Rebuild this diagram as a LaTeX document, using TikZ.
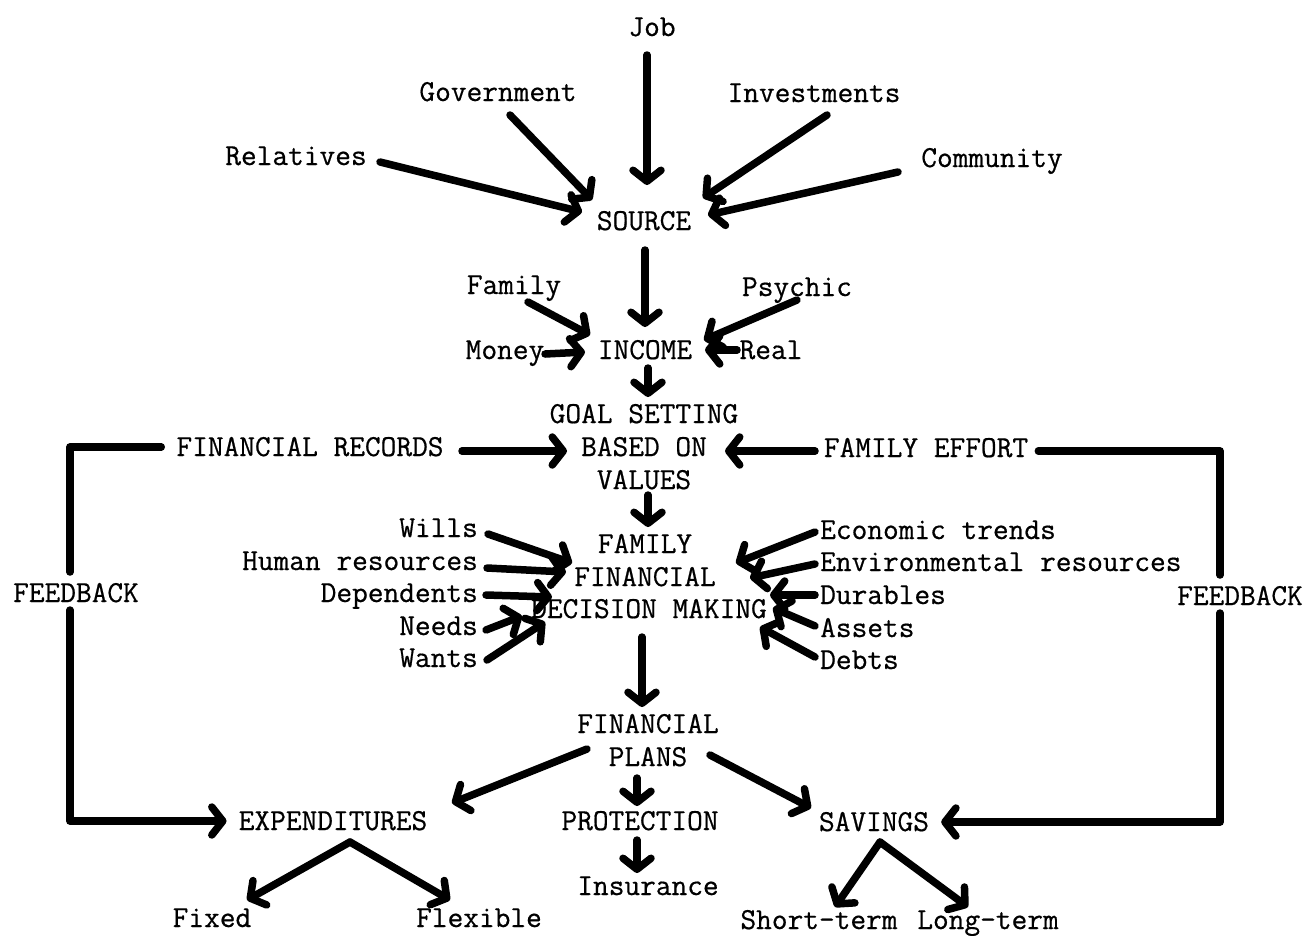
\documentclass[tikz,border=0pt]{standalone}
\usepackage{fontspec}
\newfontfamily\twfont{Latin Modern Mono}[FakeBold=0.6]
\usetikzlibrary{arrows.meta}
\begin{document}
\begin{tikzpicture}[x=1pt,y=-1pt,
 lbl/.style={inner sep=0pt, text height=18pt, text depth=0pt, font=\twfont\fontsize{30.5}{33}\selectfont},
 arr/.style={line width=7.5pt, line cap=round, line join=round, -{Straight Barb[length=11pt,width=28pt,round]}},
 ln/.style={line width=7.5pt, line cap=round, line join=round}]
\useasboundingbox[fill=white] (0,0) rectangle (1308,935);
% labels
\node[lbl] (job) at (652,27) {Job};
\node[lbl] (gov) at (498,92) {Government};
\node[lbl] (inv) at (814,93) {Investments};
\node[lbl] (rel) at (296,156) {Relatives};
\node[lbl] (com) at (992,158) {Community};
\node[lbl] (source) at (644,221) {SOURCE};
\node[lbl] (family) at (514,285) {Family};
\node[lbl] (psychic) at (797,287) {Psychic};
\node[lbl] (money) at (505,350) {Money};
\node[lbl] (income) at (645,350) {INCOME};
\node[lbl] (real) at (771,350) {Real};
\node[lbl] (goal1) at (644,414) {GOAL SETTING};
\node[lbl] (goal2) at (644,447) {BASED ON};
\node[lbl] (goal3) at (644,480) {VALUES};
\node[lbl] (records) at (310,447) {FINANCIAL RECORDS};
\node[lbl] (effort) at (926,448) {FAMILY EFFORT};
\node[lbl] (fbl) at (76,593) {FEEDBACK};
\node[lbl] (fbr) at (1240,596) {FEEDBACK};
\node[lbl] (ffdm1) at (645,544) {FAMILY};
\node[lbl] (ffdm2) at (645,577) {FINANCIAL};
\node[lbl] (ffdm3) at (649,609) {DECISION MAKING};
\node[lbl,anchor=east] (wills) at (478,528) {Wills};
\node[lbl,anchor=east] (human) at (478,561) {Human resources};
\node[lbl,anchor=east] (dep) at (478,593) {Dependents};
\node[lbl,anchor=east] (needs) at (478,626) {Needs};
\node[lbl,anchor=east] (wants) at (478,658) {Wants};
\node[lbl,anchor=west] (econ) at (820,530) {Economic trends};
\node[lbl,anchor=west] (env) at (820,562) {Environmental resources};
\node[lbl,anchor=west] (dur) at (820,595) {Durables};
\node[lbl,anchor=west] (assets) at (820,628) {Assets};
\node[lbl,anchor=west] (debts) at (820,660) {Debts};
\node[lbl] (plans1) at (648,724) {FINANCIAL};
\node[lbl] (plans2) at (648,757) {PLANS};
\node[lbl] (exp) at (333,821) {EXPENDITURES};
\node[lbl] (prot) at (640,821) {PROTECTION};
\node[lbl] (sav) at (874,822) {SAVINGS};
\node[lbl] (ins) at (648,886) {Insurance};
\node[lbl] (fixed) at (212,918) {Fixed};
\node[lbl] (flex) at (479,918) {Flexible};
\node[lbl] (short) at (819,920) {Short-term};
\node[lbl] (long) at (988,920) {Long-term};
% arrows into SOURCE
\draw[arr] ([shift={(-5,28)}]job.center) -- ([shift={(3,-36)}]source.center);
\draw[arr] ([shift={(12,23)}]gov.center) -- ([shift={(-52,-21)}]source.center);
\draw[arr] ([shift={(13,22)}]inv.center) -- ([shift={(59,-23)}]source.center);
\draw[arr] ([shift={(84,6)}]rel.center) -- ([shift={(-62,-9)}]source.center);
\draw[arr] ([shift={(-94,14)}]com.center) -- ([shift={(64,-6)}]source.center);
% into INCOME
\draw[arr] ([shift={(1,29)}]source.center) -- ([shift={(0,-23)}]income.center);
\draw[arr] ([shift={(14,17)}]family.center) -- ([shift={(-55,-15)}]income.center);
\draw[arr] ([shift={(0,13)}]psychic.center) -- ([shift={(59,-10)}]income.center);
\draw[arr] ([shift={(40,4)}]money.center) -- ([shift={(-60,2)}]income.center);
\draw[arr] ([shift={(-34,0)}]real.center) -- ([shift={(60,0)}]income.center);
% goal setting
\draw[arr] ([shift={(3,18)}]income.center) -- ([shift={(4,-17)}]goal1.center);
\draw[arr] ([shift={(152,4)}]records.center) -- ([shift={(-77,4)}]goal2.center);
\draw[arr] ([shift={(-111,3)}]effort.center) -- ([shift={(81,4)}]goal2.center);
\draw[arr] ([shift={(4,15)}]goal3.center) -- ([shift={(3,-17)}]ffdm1.center);
% left inputs
\draw[arr] ([shift={(10,6)}]wills.east) -- ([shift={(-73,-14)}]ffdm2.center);
\draw[arr] ([shift={(9,7)}]human.east) -- ([shift={(-79,-5)}]ffdm2.center);
\draw[arr] ([shift={(8,2)}]dep.east) -- ([shift={(-97,-12)}]ffdm3.center);
\draw[arr] ([shift={(8,4)}]needs.east) -- ([shift={(-127,7)}]ffdm3.center);
\draw[arr] ([shift={(9,2)}]wants.east) -- ([shift={(-104,13)}]ffdm3.center);
% right inputs
\draw[arr] ([shift={(-5,2)}]econ.west) -- ([shift={(91,-14)}]ffdm2.center);
\draw[arr] ([shift={(-5,2)}]env.west) -- ([shift={(105,1)}]ffdm2.center);
\draw[arr] ([shift={(-5,0)}]dur.west) -- ([shift={(121,-14)}]ffdm3.center);
\draw[arr] ([shift={(-5,-2)}]assets.west) -- ([shift={(124,-1)}]ffdm3.center);
\draw[arr] ([shift={(-5,-3)}]debts.west) -- ([shift={(111,18)}]ffdm3.center);
% plans
\draw[arr] ([shift={(-7,28)}]ffdm3.center) -- ([shift={(-6,-17)}]plans1.center);
\draw[arr] ([shift={(-61,-8)}]plans2.center) -- ([shift={(119,-18)}]exp.center);
\draw[arr] ([shift={(-11,21)}]plans2.center) -- ([shift={(-3,-15)}]prot.center);
\draw[arr] ([shift={(62,-2)}]plans2.center) -- ([shift={(-63,-14)}]sav.center);
\draw[arr] ([shift={(-3,19)}]prot.center) -- ([shift={(-11,-13)}]ins.center);
\draw[arr] ([shift={(17,21)}]exp.center) -- ([shift={(35,-18)}]fixed.center);
\draw[arr] ([shift={(17,21)}]exp.center) -- ([shift={(-29,-18)}]flex.center);
\draw[arr] ([shift={(6,20)}]sav.center) -- ([shift={(16,-13)}]short.center);
\draw[arr] ([shift={(6,20)}]sav.center) -- ([shift={(-20,-13)}]long.center);
% feedback loops
\draw[ln] ([shift={(-15,0)}]records.west) -| ([shift={(-6,-21)}]fbl.center);
\draw[arr] ([shift={(-6,17)}]fbl.center) |- ([shift={(-12,0)}]exp.west);
\draw[ln] ([shift={(10,3)}]effort.east) -| ([shift={(-20,-21)}]fbr.center);
\draw[arr] ([shift={(-20,17)}]fbr.center) |- ([shift={(12,0)}]sav.east);
\end{tikzpicture}
\end{document}
